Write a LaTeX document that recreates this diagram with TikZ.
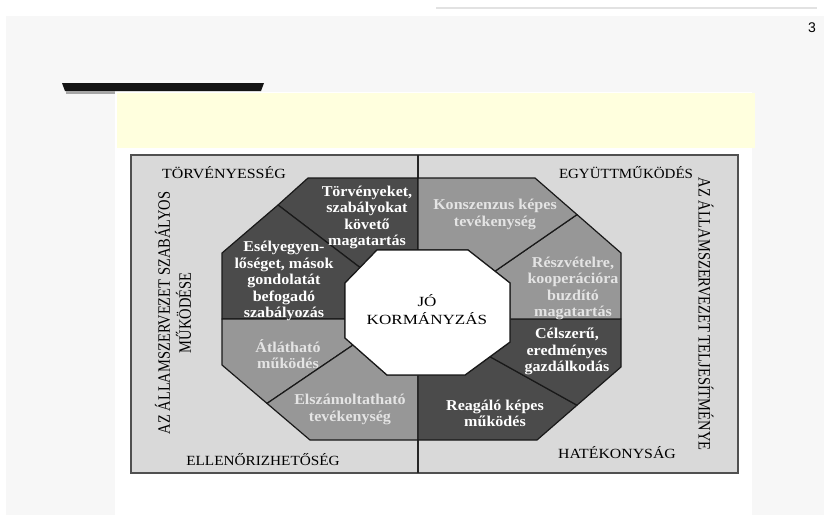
\documentclass[tikz,border=0pt]{standalone}
\usepackage{fontspec}
\setmainfont{Liberation Serif}
\newfontfamily\numfont{Liberation Sans}
\definecolor{pagebg}{HTML}{F7F7F7}
\definecolor{topline}{HTML}{E2E2E2}
\definecolor{yellowbox}{HTML}{FFFFDE}
\definecolor{framebg}{HTML}{D9D9D9}
\definecolor{frameline}{HTML}{505050}
\definecolor{darkseg}{HTML}{4B4B4B}
\definecolor{midseg}{HTML}{979797}
\definecolor{midtext}{HTML}{E4E4E4}
\newcommand{\wl}[1]{\scalebox{1.07}[1]{#1}}
\begin{document}
\begin{tikzpicture}[x=1pt,y=-1pt,
  seg/.style={draw=black!90,line width=1.2pt,line join=round},
  darkpart/.style={seg,fill=darkseg},
  midpart/.style={seg,fill=midseg},
  segtext/.style={font=\bfseries\fontsize{15}{16.6}\selectfont,align=center,inner sep=0pt},
  darktext/.style={segtext,text=white},
  midtext/.style={segtext,text=midtext},
  cornerlabel/.style={font=\fontsize{14}{17}\selectfont,anchor=base,inner sep=0pt},
  sidelabel/.style={font=\fontsize{14.5}{21}\selectfont,align=center,inner sep=0pt}
]
\useasboundingbox (0,0) rectangle (824,515);
% page
\fill[white] (0,0) rectangle (824,515);
\fill[pagebg] (6,16) rectangle (824,515);
\draw[topline,line width=1.5pt] (436,8) -- (817,8);
\node[font=\numfont\fontsize{14}{16}\selectfont,inner sep=0pt] (pagenum) at (812,28) {3};
% white sheet, yellow band, black bar
\fill[white] (115,92) rectangle (752,515);
\fill[yellowbox] (117,93) rectangle (755,148);
\fill[black!92] (62,83) -- (264,83) -- (261,91) -- (65,91) -- cycle;
\fill[black!35] (66,91) rectangle (115,93.5);
% frame
\draw[frameline,fill=framebg,line width=1.5pt] (131,155) rectangle (738,473);
\draw[black!85,line width=1.2pt] (418,155) -- (418,473);
% octagon points
\coordinate (A1) at (308,178); \coordinate (A2) at (535,178);
\coordinate (A3) at (621,253); \coordinate (A4) at (621,367);
\coordinate (A5) at (537,440); \coordinate (A6) at (310,440);
\coordinate (A7) at (222,365); \coordinate (A8) at (222,253);
\coordinate (I1) at (377,250); \coordinate (I2) at (468,250);
\coordinate (I3) at (510,283); \coordinate (I4) at (510,342);
\coordinate (I5) at (465,375); \coordinate (I6) at (387,375);
\coordinate (I7) at (345,338); \coordinate (I8) at (345,283);
\coordinate (TLo) at (278,205); \coordinate (TLi) at (360,267.5);
\coordinate (TRo) at (577,214.6); \coordinate (TRi) at (495,271.2);
\coordinate (BLi) at (353,345); \coordinate (BLo) at (267,403.4);
\coordinate (BRi) at (490,356.7); \coordinate (BRo) at (577,405.2);
\coordinate (Tt) at (418,178); \coordinate (Tb) at (418,250);
\coordinate (Bt) at (418,375); \coordinate (Bb) at (418,440);
\coordinate (Lo) at (222,319); \coordinate (Li) at (345,319);
\coordinate (Ri) at (510,319); \coordinate (Ro) at (621,319);
% segments
\draw[darkpart] (TLo) -- (A1) -- (Tt) -- (Tb) -- (I1) -- (TLi) -- cycle;
\draw[darkpart] (TLo) -- (TLi) -- (I8) -- (Li) -- (Lo) -- (A8) -- cycle;
\draw[midpart] (Lo) -- (Li) -- (I7) -- (BLi) -- (BLo) -- (A7) -- cycle;
\draw[midpart] (BLo) -- (BLi) -- (I6) -- (Bt) -- (Bb) -- (A6) -- cycle;
\draw[darkpart] (Bt) -- (I5) -- (BRi) -- (BRo) -- (A5) -- (Bb) -- cycle;
\draw[darkpart] (BRi) -- (I4) -- (Ri) -- (Ro) -- (A4) -- (BRo) -- cycle;
\draw[midpart] (Ri) -- (Ro) -- (A3) -- (TRo) -- (TRi) -- (I3) -- cycle;
\draw[midpart] (Tt) -- (A2) -- (TRo) -- (TRi) -- (I2) -- (Tb) -- cycle;
% centre
\draw[seg,fill=white] (I1) -- (I2) -- (I3) -- (I4) -- (I5) -- (I6) -- (I7) -- (I8) -- cycle;
\node[font=\fontsize{14}{18}\selectfont,align=center,inner sep=0pt] (center) at (427,310)
  {\scalebox{1.22}[1]{JÓ}\\\scalebox{1.22}[1]{KORMÁNYZÁS}};
% segment texts
\node[darktext] (t1) at (367,217.5) {\wl{Törvényeket,}\\\wl{szabályokat}\\\wl{követő}\\\wl{magatartás}};
\node[darktext] (t2) at (284,281) {\wl{Esélyegyen-}\\\wl{lőséget, mások}\\\wl{gondolatát}\\\wl{befogadó}\\\wl{szabályozás}};
\node[midtext] (t3) at (288,354) {\wl{Átlátható}\\\wl{működés}};
\node[midtext] (t4) at (350,409.5) {\wl{Elszámoltatható}\\\wl{tevékenység}};
\node[midtext] (t5) at (495,214.5) {\wl{Konszenzus képes}\\\wl{tevékenység}};
\node[midtext] (t6) at (573,288.5) {\wl{Részvételre,}\\\wl{kooperációra}\\\wl{buzdító}\\\wl{magatartás}};
\node[darktext] (t7) at (567,351.5) {\wl{Célszerű,}\\\wl{eredményes}\\\wl{gazdálkodás}};
\node[darktext] (t8) at (495,413.5) {\wl{Reagáló képes}\\\wl{működés}};
% frame labels
\node[cornerlabel] (lTor) at (224,178) {\scalebox{1.14}[1]{TÖRVÉNYESSÉG}};
\node[cornerlabel] (lEgy) at (626,178) {\scalebox{1.07}[1]{EGYÜTTMŰKÖDÉS}};
\node[cornerlabel] (lEll) at (263,465) {\scalebox{1.09}[1]{ELLENŐRIZHETŐSÉG}};
\node[cornerlabel] (lHat) at (617,458) {\scalebox{1.13}[1]{HATÉKONYSÁG}};
\node[sidelabel,rotate=90] (lLeft) at (173,313)
  {\scalebox{1}[1.2]{AZ ÁLLAMSZERVEZET SZABÁLYOS}\\\scalebox{1}[1.2]{MŰKÖDÉSE}};
\node[sidelabel,rotate=-90] (lRight) at (706,314)
  {\scalebox{1}[1.2]{AZ ÁLLAMSZERVEZET TELJESÍTMÉNYE}};
\end{tikzpicture}
\end{document}
